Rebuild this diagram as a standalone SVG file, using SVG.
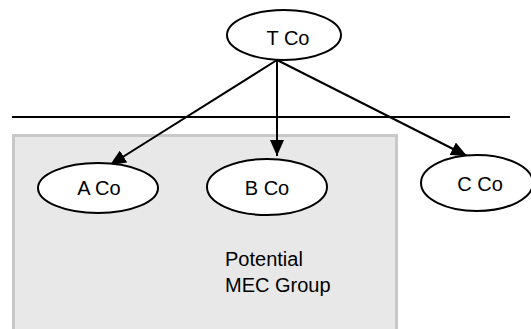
<svg xmlns="http://www.w3.org/2000/svg" width="531" height="329" viewBox="0 0 531 329">
<style>
.node ellipse{fill:#fff;stroke:#000;stroke-width:2}
text{font-family:"Liberation Sans",Arial,sans-serif;font-size:20px;fill:#000}
.c{text-anchor:middle}
.edge{stroke:#000;stroke-width:2;fill:none}
</style>
<defs>
<marker id="ah" viewBox="0 0 16 14" refX="16" refY="7" markerWidth="16" markerHeight="14" markerUnits="userSpaceOnUse" orient="auto">
<path d="M0,0 L16,7 L0,14 Z" fill="#000"/>
</marker>
</defs>
<rect id="group-box" x="13.5" y="135.5" width="383" height="200" fill="#e8e8e8" stroke="#c8c8c8" stroke-width="3"/>
<line x1="12" y1="117" x2="510" y2="117" stroke="#000" stroke-width="2"/>
<g id="connectors">
<line class="edge" x1="277" y1="60" x2="110" y2="165" marker-end="url(#ah)"/>
<line class="edge" x1="277" y1="60" x2="277" y2="156" marker-end="url(#ah)"/>
<line class="edge" x1="277" y1="60" x2="467" y2="156" marker-end="url(#ah)"/>
</g>
<g id="t-co" class="node"><ellipse cx="284" cy="35" rx="57" ry="25"/><text class="c" x="288" y="45">T Co</text></g>
<g id="a-co" class="node"><ellipse cx="98" cy="188" rx="60" ry="25"/><text class="c" x="99" y="195">A Co</text></g>
<g id="b-co" class="node"><ellipse cx="267" cy="187" rx="60" ry="28"/><text class="c" x="267" y="195">B Co</text></g>
<g id="c-co" class="node"><ellipse cx="477" cy="183" rx="56" ry="28"/><text class="c" x="480" y="191">C Co</text></g>
<g id="label"><text x="225" y="266">Potential</text><text x="225" y="292">MEC Group</text></g>
</svg>
